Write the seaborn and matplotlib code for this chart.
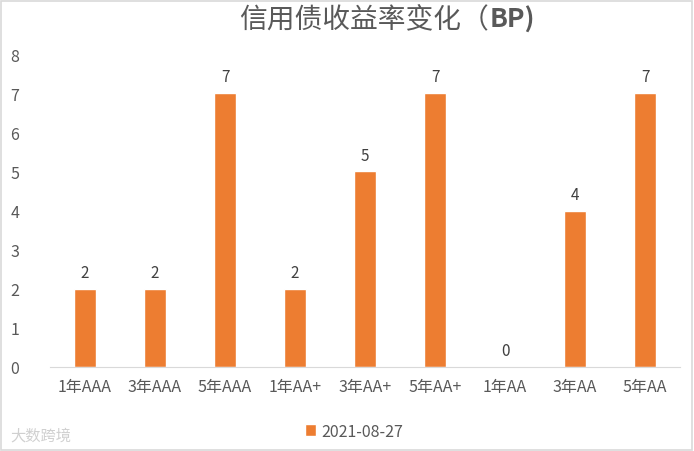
import matplotlib
matplotlib.use("Agg")
import matplotlib.pyplot as plt
import seaborn as sns
import pandas as pd
from matplotlib.patches import Rectangle

# 数据
categories = ["1年AAA", "3年AAA", "5年AAA", "1年AA+", "3年AA+", "5年AA+", "1年AA", "3年AA", "5年AA"]
values = [2, 2, 7, 2, 5, 7, 0, 4, 7]
series_name = "2021-08-27"
y_ticks = [0, 1, 2, 3, 4, 5, 6, 7, 8]

df = pd.DataFrame({"品种": categories, "BP": values})

sns.set_style("white")
plt.rcParams['font.family'] = ['Noto Sans CJK SC', 'DejaVu Sans']

bar_color = "#ED7D31"
text_color = "#595959"

fig = plt.figure(figsize=(6.94, 4.52), dpi=100)
ax = fig.add_axes([0.072, 0.186, 0.908, 0.692])

sns.barplot(data=df, x="品种", y="BP", color=bar_color, width=0.31,
            saturation=1, ax=ax, label=series_name)

# 数据标签
for i, v in enumerate(values):
    ax.text(i, v + 0.2, str(v), ha="center", va="bottom", fontsize=11, color="#404040")

ax.set_ylim(0, 8)
ax.set_xlim(-0.5, len(categories) - 0.5)
ax.set_yticks(y_ticks)
ax.set_xlabel("")
ax.set_ylabel("")
ax.tick_params(axis="both", length=0, labelsize=11.5, colors=text_color)
ax.tick_params(axis="y", pad=22)
ax.tick_params(axis="x", pad=8)
for s in ["top", "right", "left"]:
    ax.spines[s].set_visible(False)
ax.spines["bottom"].set_color("#D9D9D9")

# 标题：前半部分常规，"BP)" 加粗
t1 = fig.text(0.345, 0.938, "信用债收益率变化（", fontsize=20, color=text_color,
              ha="left", va="baseline")
fig.canvas.draw()
fig.text(0, 0, "BP)", fontsize=19, color=text_color, fontweight="bold",
         ha="left", va="baseline",
         transform=matplotlib.transforms.offset_copy(
             fig.transFigure, fig=fig,
             x=t1.get_window_extent().x1 / fig.dpi, y=0, units="inches"))
fig.texts[-1].set_position((0, 0.938))

handles, labels = ax.get_legend_handles_labels()
if ax.get_legend():
    ax.get_legend().remove()
leg = fig.legend(handles, labels, loc="center", bbox_to_anchor=(0.51, 0.044), frameon=False,
                 fontsize=11.5, handlelength=0.7, handleheight=0.7, handletextpad=0.3)
for t in leg.get_texts():
    t.set_color(text_color)

# 水印
fig.text(0.015, 0.035, "大数跨境", fontsize=11, color="#D0D0D0", ha="left", va="center")

# 外框
fig.patches.append(Rectangle((0.002, 0.003), 0.995, 0.993, transform=fig.transFigure,
                             fill=False, edgecolor="#D9D9D9", linewidth=1.2))

fig.savefig("out.png", dpi=100)
